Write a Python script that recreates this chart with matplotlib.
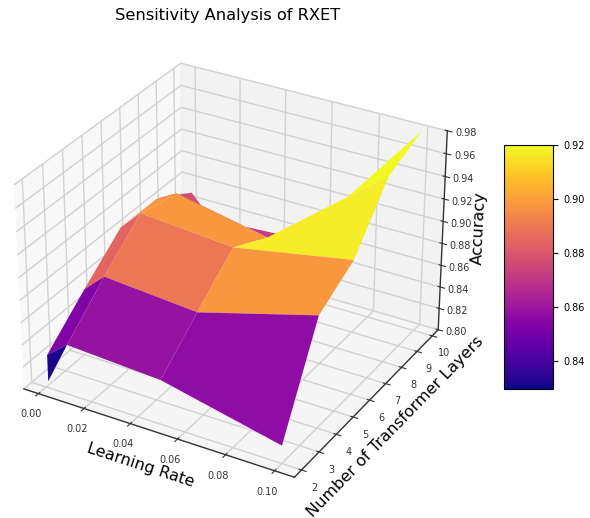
import numpy as np
import matplotlib
matplotlib.use("Agg")
import matplotlib.pyplot as plt

learning_rates = [0.001, 0.01, 0.05, 0.1]
layers = [2, 2, 4, 6, 8, 10]
accuracy = [
    [0.806, 0.845, 0.84, 0.816],
    [0.83, 0.845, 0.84, 0.816],
    [0.861, 0.878, 0.871, 0.90],
    [0.89, 0.908, 0.901, 0.92],
    [0.89, 0.90, 0.883, 0.966],
    [0.87, 0.85, 0.855, 0.98],
]

plt.rcParams["grid.color"] = "#d2d2d2"
plt.rcParams["grid.linewidth"] = 1.0
fig = plt.figure(figsize=(5.9, 5.18), dpi=100)
ax = fig.add_axes([-0.036, 0.02, 0.846, 0.93], projection="3d")
X, Y = np.meshgrid(learning_rates, layers)
Z = np.array(accuracy)
surf = ax.plot_surface(X, Y, Z, cmap="plasma", vmin=0.83, vmax=0.92, linewidth=0, antialiased=True)
surf.set_clim(0.83, 0.92)
ax.set_zlim(0.80, 0.98)
ax.set_xlim(-0.0065, 0.108)
ax.set_ylim(1.6, 10.4)
ax.set_xticks(np.arange(0, 0.101, 0.02))
ax.set_yticks(range(2, 11))
ax.set_zticks(np.arange(0.80, 0.981, 0.02))
ax.tick_params(labelsize=7, pad=0, colors="#333333")
for axis in (ax.xaxis, ax.yaxis, ax.zaxis):
    axis.pane.set_edgecolor("#f0f0f0")
    axis.line.set_color("#333333")
    axis.line.set_linewidth(1.0)
ax.set_xlabel("Learning Rate", fontsize=11.5, labelpad=-4)
ax.set_ylabel("Number of Transformer Layers", fontsize=11.5, labelpad=-4)
ax.set_zlabel("Accuracy", fontsize=11.5, labelpad=-5)
fig.text(0.385, 0.971, "Sensitivity Analysis of RXET", fontsize=11.7, ha="center", va="center")
cax = fig.add_axes([0.855, 0.25, 0.083, 0.47])
fig.colorbar(surf, cax=cax, ticks=[0.84, 0.86, 0.88, 0.90, 0.92])
cax.tick_params(labelsize=7)
fig.savefig("out.png", dpi=100)
